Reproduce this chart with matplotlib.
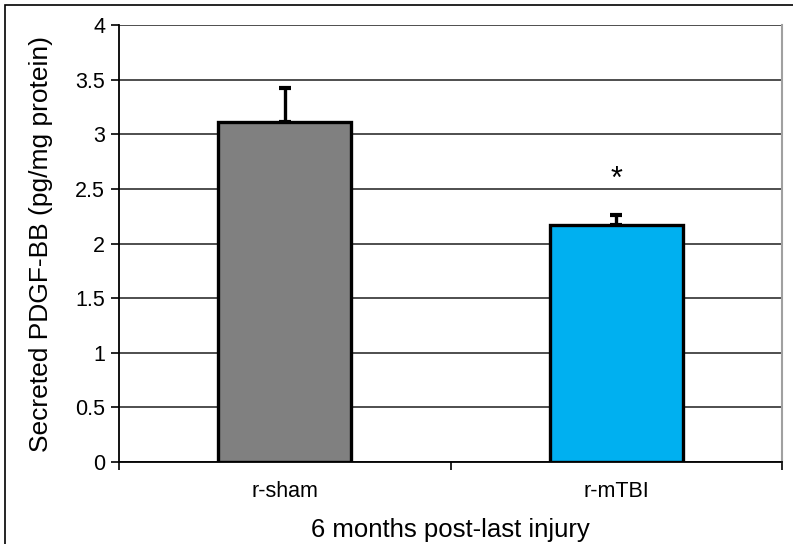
import numpy as np
import matplotlib.pyplot as plt
from matplotlib.patches import Rectangle

groups = ["r-sham", "r-mTBI"]
means = [3.11, 2.17]
errs = [0.31, 0.09]
colors = ["#808080", "#00B0F0"]
star_y = 2.58

plt.rcParams["font.family"] = ["Liberation Sans", "DejaVu Sans"]

fig = plt.figure(figsize=(7.93, 5.44), dpi=100)
ax = fig.add_axes([119 / 793, 1 - 462 / 544, (782 - 119) / 793, (462 - 25) / 544])

# outer frame (cut off at right and bottom like the source)
fig.patches.append(Rectangle((5 / 793, -0.1), 1.2, 1 - 5 / 544 + 0.1,
                             transform=fig.transFigure, fill=False,
                             edgecolor="black", linewidth=1.2))

x = np.arange(len(groups))
ax.bar(x, means, width=0.4, color=colors, edgecolor="black", linewidth=2.4, zorder=3)
ax.errorbar(x, means, yerr=[np.zeros(len(errs)), errs], fmt="none", ecolor="black",
            elinewidth=2.4, capsize=4, capthick=3, zorder=2)
ax.text(1, star_y, "*", ha="center", va="center", fontsize=22)

ax.set_xlim(-0.5, 1.5)
ax.set_ylim(0, 4)
ax.set_yticks(np.arange(0, 4.01, 0.5))
ax.set_yticklabels(["0", "0.5", "1", "1.5", "2", "2.5", "3", "3.5", "4"])
ax.yaxis.grid(True, color="#404040", linewidth=1.3, zorder=0)
ax.set_axisbelow(True)

ax.set_xticks([-0.5, 0.5, 1.5])
ax.set_xticklabels([])
ax.set_xticks(x, minor=True)
ax.set_xticklabels(groups, minor=True)
ax.tick_params(axis="x", which="minor", length=0, labelsize=15.5, pad=14)
ax.tick_params(axis="x", which="major", length=6, width=1.2, direction="out")
ax.tick_params(axis="y", length=6, width=1.2, labelsize=15.5, pad=4)

ax.spines["top"].set_visible(False)
ax.spines["right"].set_color("#a0a0a0")
ax.spines["right"].set_linewidth(1.5)
ax.spines["left"].set_linewidth(1.3)
ax.spines["bottom"].set_linewidth(1.3)

ax.set_ylabel("Secreted PDGF-BB (pg/mg protein)", fontsize=19, labelpad=16)
ax.set_xlabel("6 months post-last injury", fontsize=18.5, labelpad=11)

fig.savefig("out.png", dpi=100)
